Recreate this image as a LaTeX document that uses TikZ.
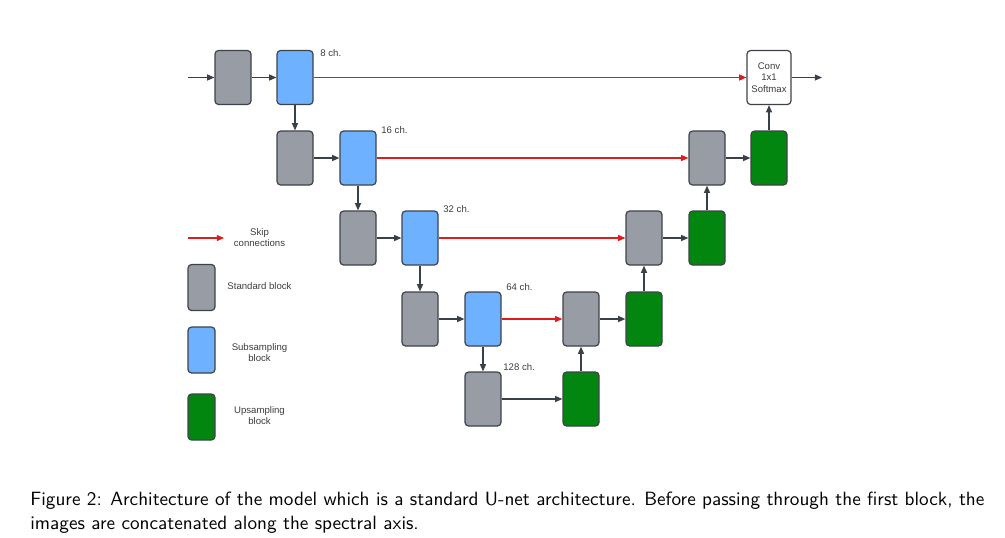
\documentclass[tikz,border=0pt]{standalone}
\usepackage{fontspec}
\newfontfamily\lucid{Liberation Sans}
\usetikzlibrary{arrows.meta}
\definecolor{stdgray}{HTML}{979CA5}
\definecolor{subblue}{HTML}{6DB1FF}
\definecolor{upgreen}{HTML}{02860F}
\definecolor{bordc}{HTML}{3E434A}
\definecolor{linec}{HTML}{3A4049}
\definecolor{skipred}{HTML}{DD1C1C}
\definecolor{txtc}{HTML}{3C3C3C}
\begin{document}
\begin{tikzpicture}[x=0.5pt,y=-0.5pt,
  blk/.style={draw=bordc,line width=0.6pt,rounded corners=1.8pt,minimum width=18pt,minimum height=27pt,inner sep=0pt},
  stdb/.style={blk,fill=stdgray},
  subb/.style={blk,fill=subblue},
  upb/.style={blk,fill=upgreen},
  legb/.style={draw=bordc,line width=0.6pt,rounded corners=1.8pt,minimum width=13.5pt,minimum height=23pt,inner sep=0pt},
  lbl/.style={font=\lucid\fontsize{4.8}{5.6}\selectfont,text=txtc,inner sep=0pt},
  conn/.style={draw=linec,line width=0.55pt,-{Triangle[length=3.6pt,width=3pt]}},
  skip/.style={draw=skipred,line width=0.55pt,-{Triangle[length=3.6pt,width=3pt]}}
]
\useasboundingbox (0,0) rectangle (1005,537);
% blocks
\node[stdb] (g1) at (233,77.5) {};
\node[subb] (b1) at (295,77.5) {};
\node[stdb] (g2) at (295,158) {};
\node[subb] (b2) at (358,158) {};
\node[stdb] (g3) at (358,238) {};
\node[subb] (b3) at (420,238) {};
\node[stdb] (g4) at (420,319) {};
\node[subb] (b4) at (483,319) {};
\node[stdb] (g5) at (483,399) {};
\node[upb] (u5) at (581,399) {};
\node[stdb] (r4) at (581,319) {};
\node[upb] (u4) at (644,319) {};
\node[stdb] (r3) at (644,238) {};
\node[upb] (u3) at (707,238) {};
\node[stdb] (r2) at (707,158) {};
\node[upb] (u2) at (769,158) {};
\node[blk,fill=white,minimum width=22pt,align=center,font=\lucid\fontsize{4.8}{5.9}\selectfont,text=txtc] (conv) at (769,77.5) {Conv\\1x1\\Softmax};
\coordinate (in) at (188,77.5);
\coordinate (out) at (822,77.5);
% channel labels
\node[lbl,anchor=west] (c8) at (320,53.5) {8 ch.};
\node[lbl,anchor=west] (c16) at (381,130.5) {16 ch.};
\node[lbl,anchor=west] (c32) at (443,209.5) {32 ch.};
\node[lbl,anchor=west] (c64) at (506,287.5) {64 ch.};
\node[lbl,anchor=west] (c128) at (503,367.5) {128 ch.};
% connectors
\draw[conn] (in) -- (g1);
\draw[conn] (g1) -- (b1);
\draw[skip] (b1) -- (conv);
\draw[conn] (b1) -- (g2);
\draw[conn] (g2) -- (b2);
\draw[skip] (b2) -- (r2);
\draw[conn] (b2) -- (g3);
\draw[conn] (g3) -- (b3);
\draw[skip] (b3) -- (r3);
\draw[conn] (b3) -- (g4);
\draw[conn] (g4) -- (b4);
\draw[skip] (b4) -- (r4);
\draw[conn] (b4) -- (g5);
\draw[conn] (g5) -- (u5);
\draw[conn] (u5) -- (r4);
\draw[conn] (r4) -- (u4);
\draw[conn] (u4) -- (r3);
\draw[conn] (r3) -- (u3);
\draw[conn] (u3) -- (r2);
\draw[conn] (r2) -- (u2);
\draw[conn] (u2) -- (conv);
\draw[conn] (conv) -- (out);
% legend
\coordinate (ls) at (188,238);
\coordinate (le) at (224,238);
\draw[skip] (ls) -- (le);
\node[lbl,align=center] (lt1) at (259.5,237.5) {Skip\\connections};
\node[legb,fill=stdgray] (lg) at (201.5,287.5) {};
\node[lbl] (lt2) at (259.5,286.5) {Standard block};
\node[legb,fill=subblue] (lb) at (201.5,350) {};
\node[lbl,align=center] (lt3) at (259.5,352.5) {Subsampling\\block};
\node[legb,fill=upgreen] (lu) at (201.5,417) {};
\node[lbl,align=center] (lt4) at (259.5,415.5) {Upsampling\\block};
% caption
\node[anchor=north west,inner sep=0pt,text width=477pt,align=justify,font=\sffamily\fontsize{9.6}{12}\selectfont] (cap) at (30,491.5)
{Figure 2: Architecture of the model which is a standard U-net architecture.  Before passing through the first block, the images are concatenated along the spectral axis.};
\end{tikzpicture}
\end{document}
